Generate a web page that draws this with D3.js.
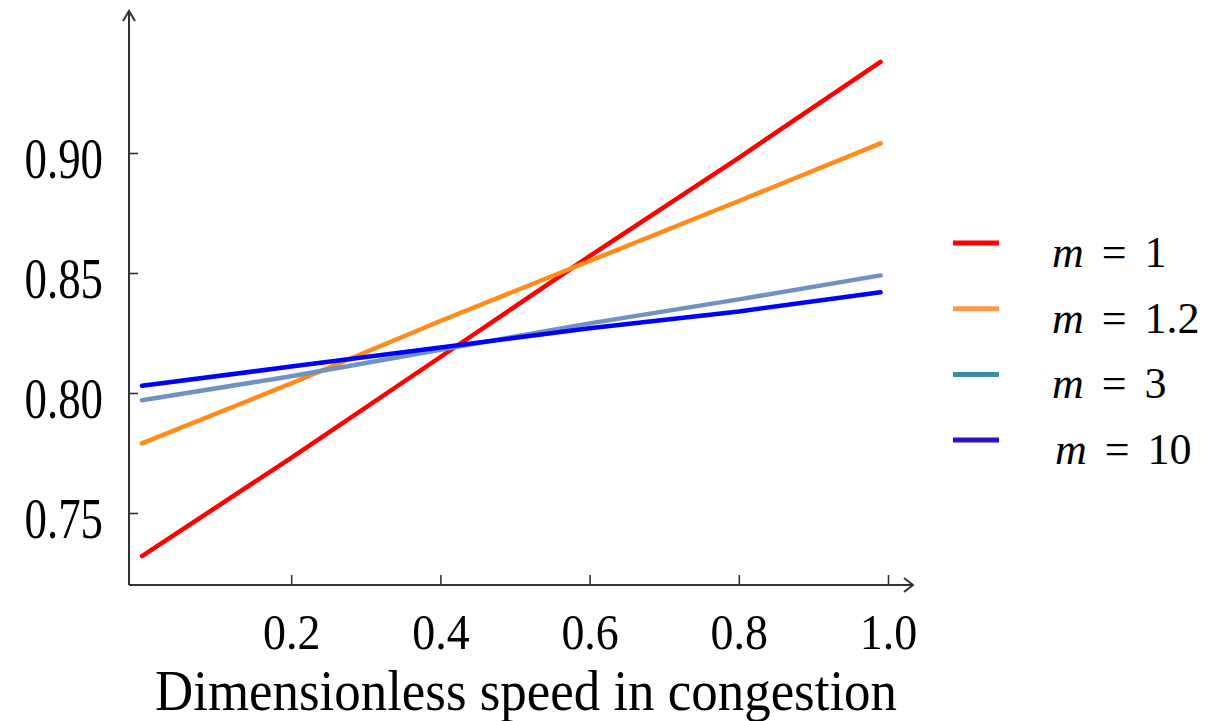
<!DOCTYPE html>
<html>
<head>
<meta charset="utf-8">
<script src="https://cdn.jsdelivr.net/npm/d3@7"></script>
<style>
  body { margin: 0; background: #fff; }
  svg { display: block; }
  text { font-family: "Liberation Serif", "Times New Roman", serif; fill: #000; }
</style>
</head>
<body>
<svg id="chart" width="1209" height="721"></svg>
<script>
// data
var speeds = [0.0, 0.2, 0.4, 0.6, 0.8, 0.99];
var m1   = [0.732, 0.773, 0.815, 0.857, 0.898, 0.938];
var m1_2 = [0.779, 0.804, 0.830, 0.855, 0.880, 0.904];
var m3   = [0.797, 0.807, 0.818, 0.829, 0.839, 0.849];
var m10  = [0.803, 0.811, 0.819, 0.827, 0.834, 0.842];

var seriesNames = ['1', '1.2', '3', '10'];
var seriesValues = [m1, m1_2, m3, m10];
var lineColors = ['#ff0000', '#ff8c1a', '#7191c0', '#0000ff'];
var legendColors = ['#ff0000', '#ff9a4c', '#3f8c9e', '#2a10c8'];

var xTicks = [0.2, 0.4, 0.6, 0.8, 1.0];
var yTicks = [0.75, 0.80, 0.85, 0.90];
var xTitle = 'Dimensionless speed in congestion';

var svg = d3.select('#chart');

// scales (origin of axes sits a little left/below the data)
var x = d3.scaleLinear().domain([0, 1]).range([142, 888]);
var y = d3.scaleLinear().domain([0.75, 0.90]).range([513, 153]);
var axisLeftX = 129, axisBottomY = 585;

//x axis ticks + labels
var gx = svg.append('g')
    .attr('transform', 'translate(0,' + axisBottomY + ')')
    .call(d3.axisBottom(x).tickValues(xTicks).tickSize(-10).tickFormat(d3.format('.1f')));
gx.select('.domain').remove();
gx.selectAll('line').attr('stroke', '#333').attr('stroke-width', 1.6);
gx.selectAll('text')
  .attr('y', 64).attr('dy', 0)
  .attr('transform', 'scale(0.9,1)')
  .style('font-size', '51px');

//y axis ticks + labels
var gy = svg.append('g')
    .attr('transform', 'translate(' + axisLeftX + ',0)')
    .call(d3.axisLeft(y).tickValues(yTicks).tickSize(-9).tickFormat(d3.format('.2f')));
gy.select('.domain').remove();
gy.selectAll('line').attr('stroke', '#333').attr('stroke-width', 1.6);
gy.selectAll('text')
  .attr('x', -26 / 0.8).attr('dy', 0).attr('y', 24)
  .attr('transform', 'scale(0.8,1)')
  .style('font-size', '56px');

// axis lines with open arrow heads
var axes = svg.append('g').attr('fill', 'none').attr('stroke', '#333').attr('stroke-width', 2);
axes.append('line').attr('x1', axisLeftX).attr('y1', axisBottomY).attr('x2', axisLeftX).attr('y2', 11);
axes.append('path').attr('d', 'M' + (axisLeftX - 6) + ',21L' + axisLeftX + ',11L' + (axisLeftX + 6) + ',21');
axes.append('line').attr('x1', axisLeftX).attr('y1', axisBottomY).attr('x2', 912).attr('y2', axisBottomY);
axes.append('path').attr('d', 'M904,' + (axisBottomY - 7) + 'L913,' + axisBottomY + 'L904,' + (axisBottomY + 7));

// series lines
var line = d3.line()
    .x(function(d){ return x(d[0]); })
    .y(function(d){ return y(d[1]); });

svg.append('g').selectAll('path')
   .data(seriesValues)
   .enter()
   .append('path')
   .attr('d', function(vals){ return line(speeds.map(function(s, i){ return [s, vals[i]]; })); })
   .attr('fill', 'none')
   .attr('stroke', function(d, i){ return lineColors[i]; })
   .attr('stroke-width', 4.5)
   .attr('stroke-linecap', 'round')
   .attr('stroke-linejoin', 'round');

// x title
svg.append('text')
   .attr('x', 155).attr('y', 710)
   .attr('textLength', 742).attr('lengthAdjust', 'spacingAndGlyphs')
   .style('font-size', '57px')
   .text(xTitle);

// legend
var legend = svg.append('g').selectAll('g')
    .data(seriesNames)
    .enter()
    .append('g')
    .attr('transform', function(d, i){ return 'translate(0,' + (243 + i * 65.7) + ')'; });

legend.append('line')
      .attr('x1', 953).attr('x2', 999)
      .attr('stroke', function(d, i){ return legendColors[i]; })
      .attr('stroke-width', 5);

var lt = legend.append('text')
      .attr('x', function(d, i){ return i === 3 ? 1055 : 1052; })
      .attr('y', 24)
      .style('font-size', '44px');
lt.append('tspan').style('font-style', 'italic').text('m');
lt.append('tspan').attr('dx', 18).text('=');
lt.append('tspan').attr('dx', 18).text(function(d){ return d; });
</script>
</body>
</html>
